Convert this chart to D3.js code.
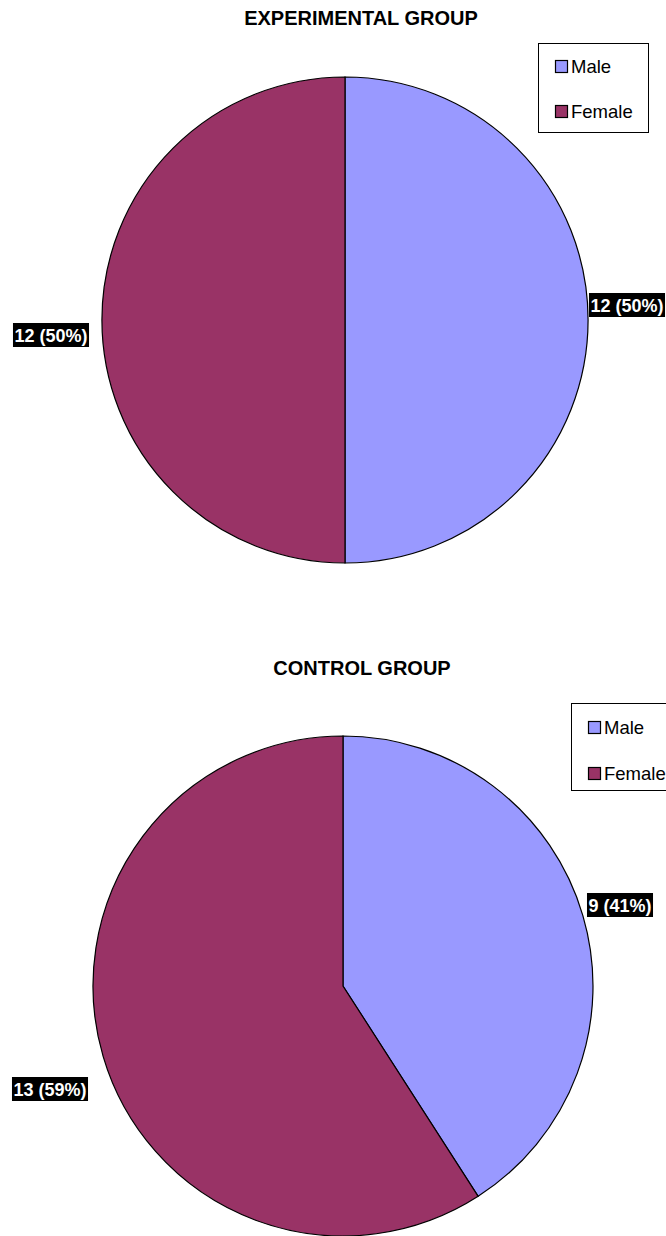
<!DOCTYPE html>
<html>
<head>
<meta charset="utf-8">
<script src="https://cdn.jsdelivr.net/npm/d3@7"></script>
<style>
  html, body { margin: 0; padding: 0; background: #fff; }
  svg { display: block; font-family: "Liberation Sans", Arial, sans-serif; }
</style>
</head>
<body>
<svg id="chart" width="666" height="1236"></svg>
<script>
// Gender breakdown for each study group
const categories = ["Male", "Female"];
const experimentalValues = [12, 12];
const controlValues = [9, 13];
const groupTitles = ["EXPERIMENTAL GROUP", "CONTROL GROUP"];

const colors = d3.scaleOrdinal().domain(categories).range(["#9999ff", "#993366"]);

const svg = d3.select("#chart");

// Layout for each panel
const panels = [
  {
    title: groupTitles[0], values: experimentalValues,
    titleX: 361, titleY: 25,
    cx: 345, cy: 320, r: 243,
    legend: { x: 538, y: 43, w: 110, h: 89, rowY: [66, 111] },
    labelPos: [{ x: 627, y: 305 }, { x: 51, y: 335 }]
  },
  {
    title: groupTitles[1], values: controlValues,
    titleX: 362, titleY: 675,
    cx: 343, cy: 986, r: 250,
    legend: { x: 571, y: 703, w: 110, h: 87, rowY: [727, 773] },
    labelPos: [{ x: 620, y: 905 }, { x: 50, y: 1089 }]
  }
];

const pie = d3.pie().sort(null).value(d => d.value);

panels.forEach(p => {
  const g = svg.append("g");

  g.append("text")
    .attr("x", p.titleX).attr("y", p.titleY)
    .attr("text-anchor", "middle")
    .attr("font-size", 20).attr("font-weight", "bold")
    .attr("fill", "#000")
    .text(p.title);

  const data = categories.map((c, i) => ({ cat: c, value: p.values[i] }));
  const arcs = pie(data);
  const arc = d3.arc().innerRadius(0).outerRadius(p.r);

  const pieG = g.append("g").attr("transform", `translate(${p.cx},${p.cy})`);
  pieG.selectAll("path").data(arcs).join("path")
    .attr("d", arc)
    .attr("fill", d => colors(d.data.cat))
    .attr("stroke", "#000")
    .attr("stroke-width", 1.2);

  // value labels: white bold text on black boxes
  const total = d3.sum(p.values);
  arcs.forEach((a, i) => {
    const txt = `${a.data.value} (${Math.round(a.data.value / total * 100)}%)`;
    const lg = g.append("g");
    const t = lg.append("text")
      .attr("x", p.labelPos[i].x).attr("y", p.labelPos[i].y + 6.5)
      .attr("text-anchor", "middle")
      .attr("font-size", 18).attr("font-weight", "bold")
      .attr("fill", "#fff")
      .text(txt);
    const bb = t.node().getBBox();
    lg.insert("rect", "text")
      .attr("x", bb.x - 1.5).attr("y", p.labelPos[i].y - 12)
      .attr("width", bb.width + 3).attr("height", 24)
      .attr("fill", "#000");
  });

  // legend
  const L = p.legend;
  g.append("rect")
    .attr("x", L.x + 0.5).attr("y", L.y + 0.5)
    .attr("width", L.w).attr("height", L.h)
    .attr("fill", "#fff").attr("stroke", "#000").attr("stroke-width", 1);
  categories.forEach((c, i) => {
    g.append("rect")
      .attr("x", L.x + 17.5).attr("y", L.rowY[i] - 5.5)
      .attr("width", 12).attr("height", 12)
      .attr("fill", colors(c)).attr("stroke", "#000").attr("stroke-width", 1.2);
    g.append("text")
      .attr("x", L.x + 33).attr("y", L.rowY[i] + 7)
      .attr("font-size", 18.5).attr("fill", "#000")
      .text(c);
  });
});
</script>
</body>
</html>
